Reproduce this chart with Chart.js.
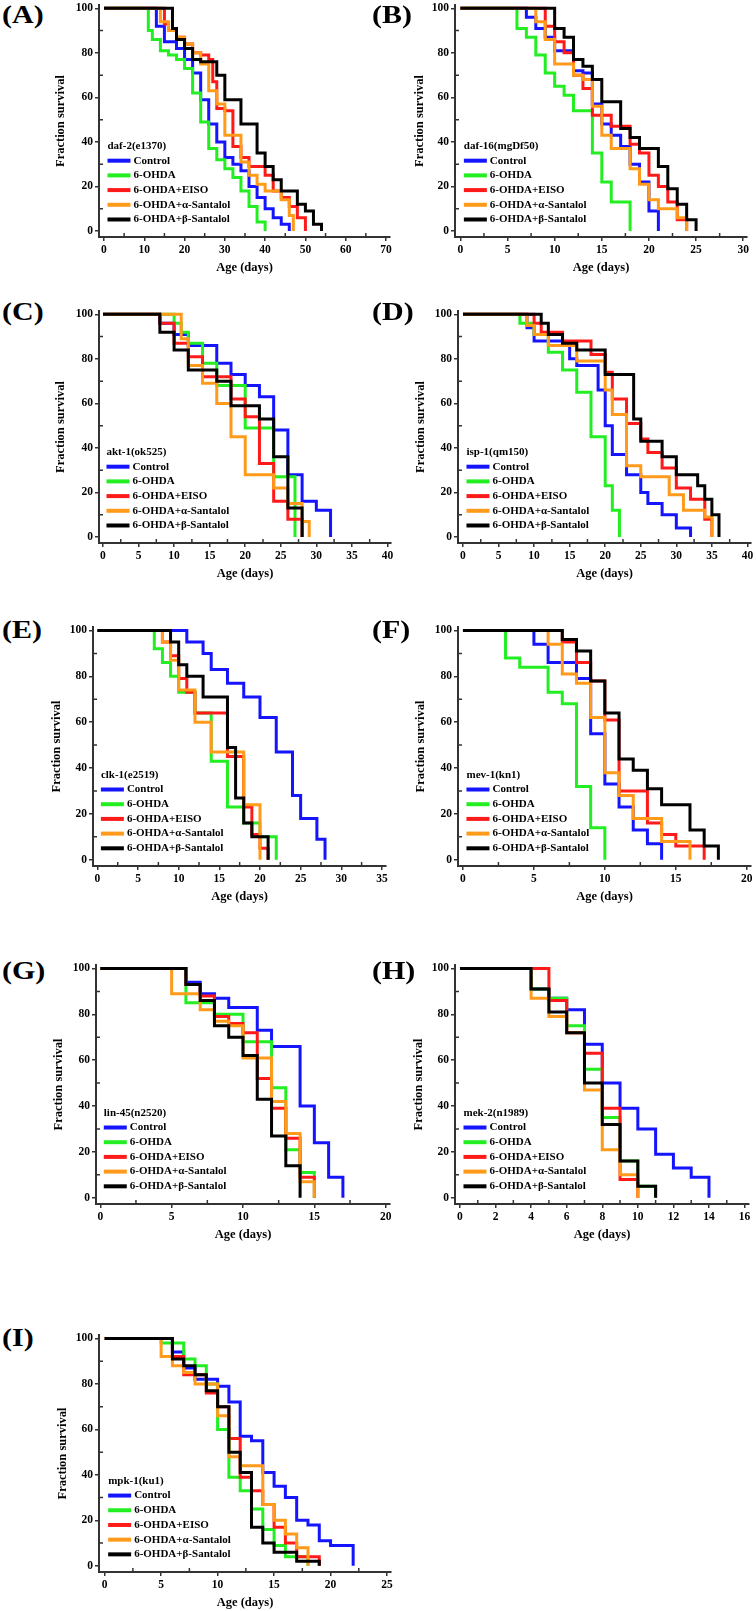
<!DOCTYPE html>
<html lang="en">
<head>
<meta charset="UTF-8">
<title>Survival curves</title>
<style>
  html, body { margin: 0; padding: 0; background: #fff; overflow: hidden; }
  #page { position: relative; width: 756px; height: 1611px; }
  #page canvas { position: absolute; }
  .plabel {
    position: absolute; font-family: "Liberation Serif", "Times New Roman", serif;
    font-weight: bold; font-size: 25px; line-height: 1; color: #000;
    transform: scaleX(1.2); transform-origin: left top; white-space: nowrap;
  }
</style>
</head>
<body>
<div id="page"></div>

<script src="https://cdn.jsdelivr.net/npm/chart.js"></script>
<script>
// series names and colours (same in every panel)
const seriesNames = ['Control', '6-OHDA', '6-OHDA+EISO', '6-OHDA+\u03b1-Santalol', '6-OHDA+\u03b2-Santalol'];
const seriesColors = ['#1414ff', '#22ee22', '#ff1a1a', '#ff9a1a', '#000000'];
const yTicks = [0, 20, 40, 60, 80, 100];

// (A) daf-2(e1370)  [day, % alive]
const A_control = [[0,100],[13,92],[15,85],[18,82],[20,77],[22,71],[24,59],[26,48],[28,40],[30,33],[32,30],[34,27],[36,20],[38,15],[40,10],[42,6],[44,3],[46,0]];
const A_ohda    = [[0,100],[11,90],[12,86],[14,81],[16,79],[18,77],[20,73],[22,62],[24,49],[26,37],[28,32],[30,28],[32,24],[34,18],[36,11],[38,4],[40,0]];
const A_eiso    = [[0,100],[15,93],[16,90],[18,87],[20,84],[22,80],[24,79],[26,77],[27,67],[28,55],[30,54],[32,38],[34,33],[36,29],[40,25],[42,18],[44,15],[46,11],[48,6],[50,0]];
const A_alpha   = [[0,100],[14,94],[16,90],[18,87],[20,84],[22,80],[24,75],[26,63],[28,57],[30,43],[34,31],[36,25],[38,21],[40,18],[44,14],[46,7],[47,0]];
const A_beta    = [[0,100],[17,91],[18,86],[20,82],[22,77],[24,76],[28,70],[30,59],[34,48],[38,35],[40,29],[42,23],[44,18],[48,12],[50,9],[52,3],[54,0]];

// (B) daf-16(mgDf50)
const B_control = [[0,100],[7,96],[8,91],[9,87],[10,81],[12,72],[13,71],[14,57],[15,48],[16,43],[17,38],[18,30],[19,22],[20,9],[21,0]];
const B_ohda    = [[0,100],[6,91],[7,87],[8,79],[9,71],[10,65],[11,61],[12,54],[14,35],[15,22],[16,13],[18,0]];
const B_eiso    = [[0,100],[9,92],[10,85],[11,80],[12,70],[13,64],[14,52],[16,47],[18,39],[19,35],[20,25],[21,20],[22,13],[23,5],[24,0]];
const B_alpha   = [[0,100],[8,94],[9,86],[10,75],[12,70],[13,68],[14,56],[15,43],[16,37],[18,28],[19,21],[20,14],[21,10],[23,6],[24,0]];
const B_beta    = [[0,100],[10,91],[11,87],[12,77],[13,74],[14,68],[15,58],[17,46],[18,42],[19,37],[21,29],[22,19],[23,12],[24,5],[25,0]];

// (C) akt-1(ok525)
const C_control = [[0,100],[8,96],[10,91],[12,86],[16,78],[18,73],[20,68],[22,63],[24,48],[26,28],[28,16],[30,12],[32,0]];
const C_ohda    = [[0,100],[10,96],[11,92],[12,87],[14,78],[16,68],[20,49],[24,27],[27,0]];
const C_eiso    = [[0,100],[8,96],[10,87],[12,81],[14,72],[18,62],[20,54],[22,33],[24,16],[26,8],[28,0]];
const C_alpha   = [[0,100],[11,89],[12,77],[14,69],[16,60],[18,45],[20,28],[24,22],[26,15],[28,7],[29,0]];
const C_beta    = [[0,100],[8,92],[10,84],[12,75],[16,70],[18,59],[22,53],[24,36],[26,13],[28,0]];

// (D) isp-1(qm150)
const D_control = [[0,100],[9,94],[10,88],[14,86],[15,80],[16,77],[19,66],[20,50],[21,37],[23,28],[25,20],[26,15],[28,10],[30,4],[32,0]];
const D_ohda    = [[0,100],[8,96],[10,91],[12,83],[14,75],[16,65],[18,45],[20,23],[21,12],[22,0]];
const D_eiso    = [[0,100],[10,96],[11,92],[14,88],[18,82],[20,74],[21,62],[23,51],[25,44],[26,38],[28,31],[30,22],[32,17],[34,8],[35,0]];
const D_alpha   = [[0,100],[9,95],[10,91],[12,86],[16,79],[20,66],[21,55],[23,32],[25,27],[29,19],[31,12],[34,9],[35,0]];
const D_beta    = [[0,100],[11,96],[12,91],[14,87],[16,84],[20,73],[24,53],[25,43],[28,36],[30,28],[33,23],[34,17],[35,10],[36,0]];

// (E) clk-1(e2519)
const E_control = [[0,100],[11,95],[13,90],[14,83],[16,77],[18,71],[20,62],[22,47],[24,28],[25,18],[27,9],[28,0]];
const E_ohda    = [[0,100],[7,92],[8,86],[9,80],[10,73],[12,64],[14,43],[16,23],[18,16],[20,10],[22,0]];
const E_eiso    = [[0,100],[8,95],[9,89],[10,79],[11,73],[12,64],[16,45],[18,23],[19,11],[20,5],[21,0]];
const E_alpha   = [[0,100],[8,95],[9,87],[10,74],[12,60],[14,47],[18,24],[20,0]];
const E_beta    = [[0,100],[9,95],[10,85],[11,80],[13,71],[16,49],[17,27],[18,16],[19,10],[21,0]];

// (F) mev-1(kn1)
const F_control = [[0,100],[5,94],[6,86],[8,79],[9,55],[10,33],[11,23],[12,13],[13,7],[14,0]];
const F_ohda    = [[0,100],[3,88],[4,84],[6,73],[7,68],[8,32],[9,14],[10,0]];
const F_eiso    = [[0,100],[7,95],[8,86],[9,78],[10,61],[11,30],[13,16],[14,11],[15,6],[17,0]];
const F_alpha   = [[0,100],[6,94],[7,81],[8,77],[9,62],[10,38],[11,28],[12,18],[14,8],[16,0]];
const F_beta    = [[0,100],[7,96],[8,91],[9,78],[10,64],[11,44],[12,39],[13,31],[14,24],[16,13],[17,6],[18,0]];

// (G) lin-45(n2520)
const G_control = [[0,100],[6,94],[7,89],[8,87],[9,83],[11,73],[12,66],[14,40],[15,24],[16,9],[17,0]];
const G_ohda    = [[0,100],[6,85],[8,80],[10,68],[12,48],[13,21],[14,11],[15,0]];
const G_eiso    = [[0,100],[6,93],[7,88],[8,79],[9,76],[10,72],[11,52],[12,39],[13,26],[14,9],[15,0]];
const G_alpha   = [[0,100],[5,89],[7,82],[8,77],[9,75],[10,61],[12,42],[13,28],[14,7],[15,0]];
const G_beta    = [[0,100],[6,93],[7,86],[8,75],[9,70],[10,62],[11,43],[12,27],[13,14],[14,0]];

// (H) mek-2(n1989)
const H_control = [[0,100],[4,91],[5,87],[6,82],[7,67],[8,50],[9,39],[10,30],[11,19],[12,13],[13,9],[14,0]];
const H_ohda    = [[0,100],[4,91],[5,87],[6,75],[7,56],[8,35],[9,16],[10,5],[11,0]];
const H_eiso    = [[0,100],[5,86],[6,72],[7,63],[8,39],[9,8],[10,0]];
const H_alpha   = [[0,100],[4,87],[5,79],[6,72],[7,47],[8,21],[9,10],[10,0]];
const H_beta    = [[0,100],[4,91],[5,81],[6,72],[7,50],[8,32],[9,16],[10,5],[11,0]];

// (I) mpk-1(ku1)
const I_control = [[0,100],[6,94],[7,87],[8,82],[10,79],[11,72],[12,57],[13,55],[14,41],[15,35],[16,30],[17,20],[18,18],[19,11],[20,9],[22,0]];
const I_ohda    = [[0,100],[5,98],[7,91],[8,88],[9,80],[10,60],[11,39],[12,33],[13,25],[14,16],[15,9],[16,4],[18,0]];
const I_eiso    = [[0,100],[6,92],[7,84],[9,76],[10,70],[11,56],[12,39],[13,33],[14,27],[15,17],[16,10],[17,4],[19,0]];
const I_alpha   = [[0,100],[5,92],[6,88],[7,85],[8,80],[10,66],[11,48],[12,44],[14,27],[15,20],[16,14],[17,8],[18,0]];
const I_beta    = [[0,100],[6,91],[7,88],[8,84],[9,77],[10,70],[11,50],[12,41],[13,17],[14,10],[15,6],[17,2],[19,0]];

// x tick labels per panel
const A_xticks = [0,10,20,30,40,50,60,70];
const B_xticks = [0,5,10,15,20,25,30];
const C_xticks = [0,5,10,15,20,25,30,35,40];
const D_xticks = [0,5,10,15,20,25,30,35,40];
const E_xticks = [0,5,10,15,20,25,30,35];
const F_xticks = [0,5,10,15,20];
const G_xticks = [0,5,10,15,20];
const H_xticks = [0,2,4,6,8,10,12,14,16];
const I_xticks = [0,5,10,15,20,25];

// layout: box = plot area [left, top, right, bottom] in page px
const panels = [
  { tag:'(A)', strain:'daf-2(e1370)',   data:[A_control,A_ohda,A_eiso,A_alpha,A_beta], xt:A_xticks, xMin:-1.24, xMax:71,    box:[99.3,5.0,389.9,237.0],    titleX:61,    lab:[2,2] },
  { tag:'(B)', strain:'daf-16(mgDf50)', data:[B_control,B_ohda,B_eiso,B_alpha,B_beta], xt:B_xticks, xMin:-0.57, xMax:30.4,  box:[455.3,5.0,747.8,237.0],   titleX:419.7, lab:[372,2] },
  { tag:'(C)', strain:'akt-1(ok525)',   data:[C_control,C_ohda,C_eiso,C_alpha,C_beta], xt:C_xticks, xMin:-0.56, xMax:40.5,  box:[99.3,311.2,391.4,543.3],  titleX:61,    lab:[2,299] },
  { tag:'(D)', strain:'isp-1(qm150)',   data:[D_control,D_ohda,D_eiso,D_alpha,D_beta], xt:D_xticks, xMin:-0.7,  xMax:40.5,  box:[458,311.2,750.9,543.3],   titleX:420.7, lab:[372,299] },
  { tag:'(E)', strain:'clk-1(e2519)',   data:[E_control,E_ohda,E_eiso,E_alpha,E_beta], xt:E_xticks, xMin:-0.54, xMax:35.5,  box:[93.3,626.6,386.4,865.2],  titleX:56.7,  lab:[2,617] },
  { tag:'(F)', strain:'mev-1(kn1)',     data:[F_control,F_ohda,F_eiso,F_alpha,F_beta], xt:F_xticks, xMin:-0.35, xMax:20.3,  box:[458,626.6,750.6,865.2],   titleX:420.7, lab:[372,617] },
  { tag:'(G)', strain:'lin-45(n2520)',  data:[G_control,G_ohda,G_eiso,G_alpha,G_beta], xt:G_xticks, xMin:-0.3,  xMax:20.3,  box:[95.7,964.6,389.7,1203.5], titleX:58,    lab:[2,958] },
  { tag:'(H)', strain:'mek-2(n1989)',   data:[H_control,H_ohda,H_eiso,H_alpha,H_beta], xt:H_xticks, xMin:-0.28, xMax:16.25, box:[454.7,964.6,749.1,1203.5],titleX:418,   lab:[372,958] },
  { tag:'(I)', strain:'mpk-1(ku1)',     data:[I_control,I_ohda,I_eiso,I_alpha,I_beta], xt:I_xticks, xMin:-0.5,  xMax:25.35, box:[99.3,1334.9,391.5,1571.8],titleX:62.7,  lab:[2,1325] }
];

const FONT = '"Liberation Serif", "Times New Roman", serif';
const AXIS = '#333333';
const LEFT_W = 50, TOP_P = 10, RIGHT_P = 12, BOTTOM_H = 42;

// minor ticks (inward) and the legend inside the plot
const extras = {
  id: 'extras',
  afterDatasetsDraw(chart, args, opts) {
    const ctx = chart.ctx, xs = chart.scales.x, ys = chart.scales.y, area = chart.chartArea;
    ctx.save();
    ctx.strokeStyle = AXIS;
    ctx.lineWidth = 1.5;
    ctx.beginPath();
    for (let i = 0; i < opts.xt.length - 1; i++) {
      const px = xs.getPixelForValue((opts.xt[i] + opts.xt[i + 1]) / 2);
      ctx.moveTo(px, area.bottom); ctx.lineTo(px, area.bottom - 4);
    }
    for (let i = 0; i < yTicks.length - 1; i++) {
      const py = ys.getPixelForValue((yTicks[i] + yTicks[i + 1]) / 2);
      ctx.moveTo(area.left, py); ctx.lineTo(area.left + 4, py);
    }
    ctx.stroke();

    // legend
    const lx = xs.getPixelForValue(0) + 3.5;
    const step = 14.7;
    let y = ys.getPixelForValue(0) - 11.5 - step * seriesNames.length;
    ctx.font = 'bold 11px ' + FONT;
    ctx.textBaseline = 'middle';
    ctx.textAlign = 'left';
    ctx.fillStyle = '#000';
    ctx.fillText(opts.strain, lx, y);
    seriesNames.forEach((name, i) => {
      y += step;
      ctx.strokeStyle = seriesColors[i];
      ctx.lineWidth = 4;
      ctx.beginPath(); ctx.moveTo(lx, y); ctx.lineTo(lx + 23, y); ctx.stroke();
      ctx.fillStyle = '#000';
      ctx.fillText(name, lx + 26, y);
    });
    ctx.restore();
  }
};

const page = document.getElementById('page');

panels.forEach(p => {
  const [l, t, r, b] = p.box;
  const padL = p.titleX - 7.5 - (l - LEFT_W);

  const lab = document.createElement('div');
  lab.className = 'plabel';
  lab.style.left = p.lab[0] + 'px';
  lab.style.top = p.lab[1] + 'px';
  lab.textContent = p.tag;
  page.appendChild(lab);

  const cv = document.createElement('canvas');
  const w = Math.round(r - l + LEFT_W + RIGHT_P);
  const h = Math.round(b - t + TOP_P + BOTTOM_H);
  cv.width = w; cv.height = h;
  cv.style.width = w + 'px'; cv.style.height = h + 'px';
  cv.style.left = (l - LEFT_W) + 'px';
  cv.style.top = (t - TOP_P) + 'px';
  page.appendChild(cv);

  const tickFont = { family: FONT, weight: 'bold', size: 11.5 };
  const titleFont = { family: FONT, weight: 'bold', size: 12.5, lineHeight: 1.2 };

  new Chart(cv.getContext('2d'), {
    type: 'line',
    data: {
      datasets: p.data.map((pts, i) => ({
        label: seriesNames[i],
        data: pts.map(d => ({ x: d[0], y: d[1] })),
        borderColor: seriesColors[i],
        borderWidth: 3,
        stepped: 'before',   // horizontal first, then the drop
        pointRadius: 0,
        fill: false,
        order: seriesNames.length - 1 - i
      }))
    },
    options: {
      responsive: false,
      animation: false,
      events: [],
      layout: { padding: { left: padL, top: TOP_P, right: RIGHT_P, bottom: 0 } },
      plugins: {
        legend: { display: false },
        tooltip: { enabled: false },
        extras: { xt: p.xt, strain: p.strain }
      },
      scales: {
        x: {
          type: 'linear', min: p.xMin, max: p.xMax,
          afterBuildTicks: s => { s.ticks = p.xt.map(v => ({ value: v })); },
          afterFit: s => { s.height = BOTTOM_H; },
          grid: { display: true, drawOnChartArea: false, drawTicks: true, tickLength: 4, color: AXIS, lineWidth: 1.5 },
          border: { display: true, color: AXIS, width: 2 },
          ticks: { font: tickFont, color: '#000', padding: 2, maxRotation: 0, autoSkip: false },
          title: { display: true, text: 'Age (days)', font: titleFont, color: '#000', padding: { top: 0, bottom: 3.5 } }
        },
        y: {
          type: 'linear', min: -2.7, max: 101.5,
          afterBuildTicks: s => { s.ticks = yTicks.map(v => ({ value: v })); },
          afterFit: s => { s.width = LEFT_W - padL; },
          grid: { display: true, drawOnChartArea: false, drawTicks: true, tickLength: 4, color: AXIS, lineWidth: 1.5 },
          border: { display: true, color: AXIS, width: 2 },
          ticks: { font: tickFont, color: '#000', padding: 2 },
          title: { display: true, text: 'Fraction survival', font: titleFont, color: '#000', padding: { top: 0, bottom: 0 } }
        }
      }
    },
    plugins: [extras]
  });
});
</script>
</body>
</html>
